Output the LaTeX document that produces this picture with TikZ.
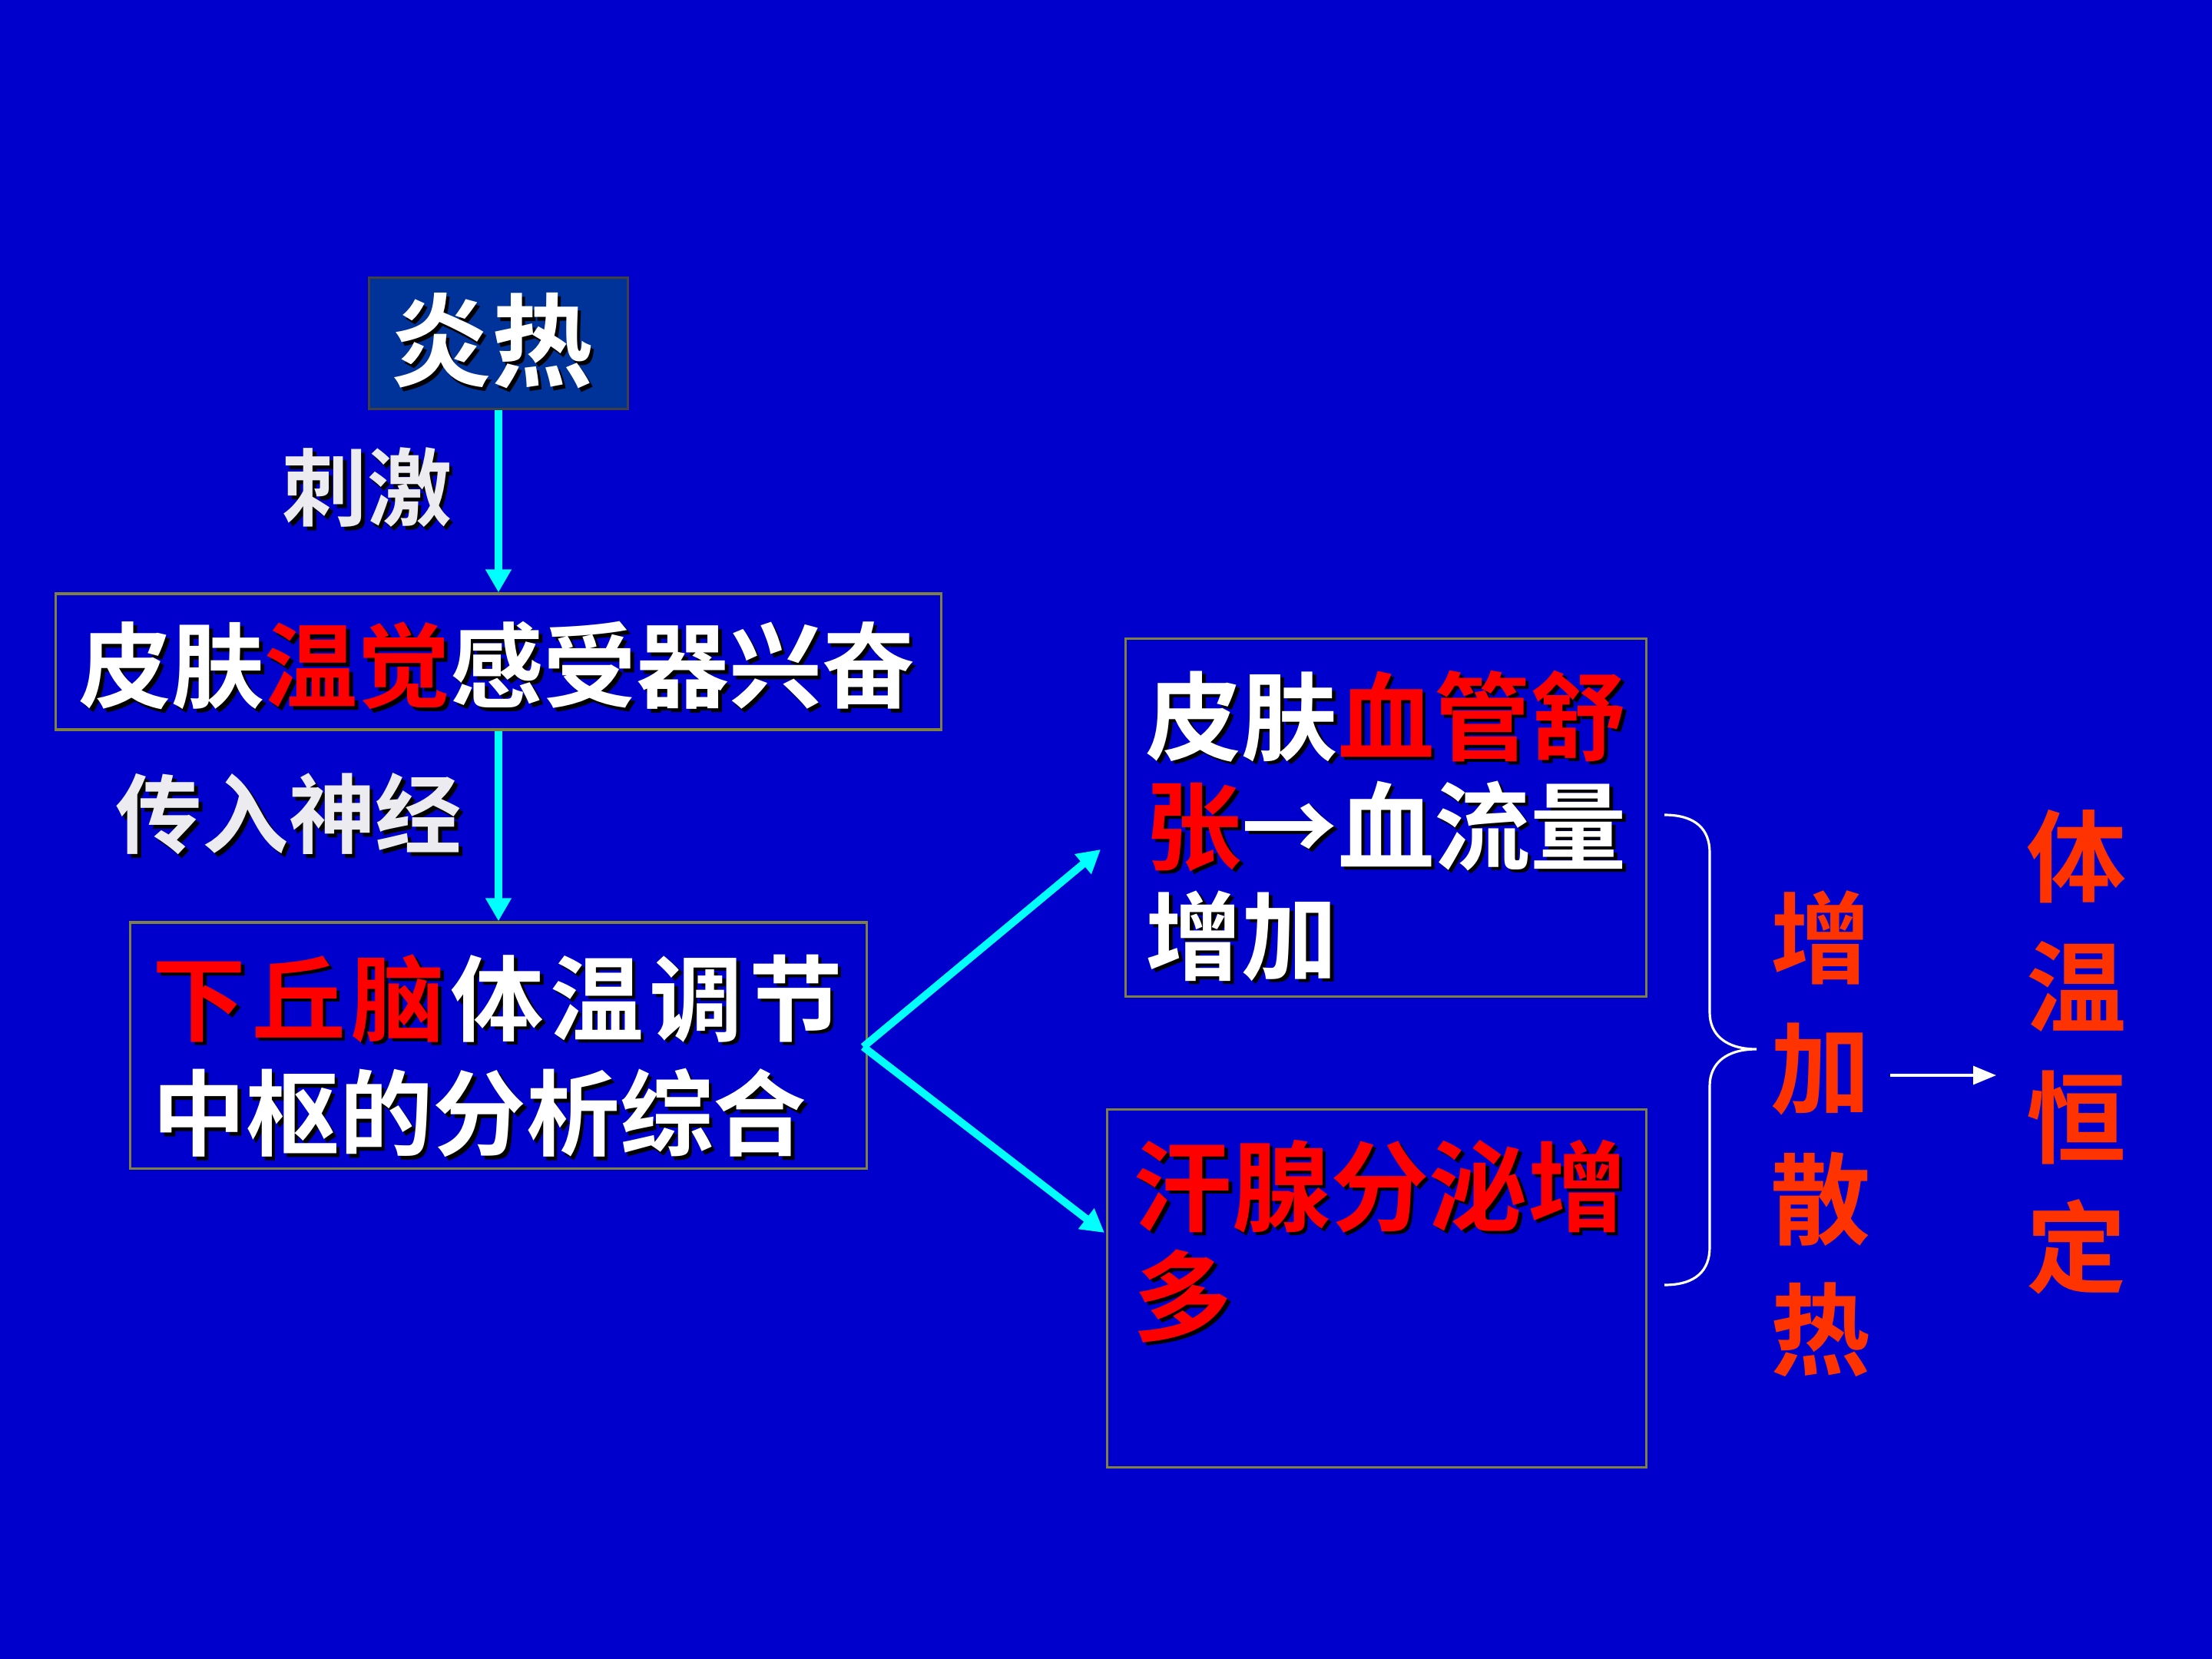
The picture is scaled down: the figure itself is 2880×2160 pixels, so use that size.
\documentclass[tikz,border=0pt]{standalone}
\usepackage{fontspec}
\usetikzlibrary{arrows.meta}
\newfontfamily\cjk{Noto Sans CJK SC}[BoldFont={Noto Sans CJK SC Bold}]
\definecolor{bgc}{RGB}{0,0,204}
\definecolor{boxone}{RGB}{0,51,153}
\definecolor{olivec}{RGB}{128,128,64}
\definecolor{darkc}{RGB}{64,64,64}
\definecolor{txtred}{RGB}{255,0,0}
\definecolor{orred}{RGB}{255,51,0}
\definecolor{lbl}{RGB}{236,236,240}
\definecolor{cyanc}{RGB}{0,255,255}
\newcommand\sh[2]{\leavevmode\rlap{\kern1.3pt\raisebox{-1.3pt}{\color{black}#2}}{\color{#1}#2}}
\newcommand\lsp{\hspace{2.2pt}}
\tikzset{
  frame/.style={draw=olivec, line width=0.9pt, fill=bgc, inner sep=0pt},
  txt/.style={inner sep=0pt, font=\cjk\bfseries},
  cyanarr/.style={draw=cyanc, line width=2.8pt, -{Triangle[length=3mm,width=3.2mm]}},
  whitearr/.style={draw=white, line width=0.9pt, -{Triangle[length=3mm,width=2.4mm]}},
}
\begin{document}
\begin{tikzpicture}[x=0.01cm,y=-0.01cm]
\useasboundingbox (0,0) rectangle (2880,2160);
\fill[bgc] (0,0) rectangle (2880,2160);

% boxes
\node[draw=darkc, line width=0.9pt, fill=boxone, inner sep=0pt,
      minimum width=3.36cm, minimum height=1.71cm] (yr) at (649,447) {};
\node[txt, font=\cjk\bfseries\fontsize{37.5}{44}\selectfont] (yrt) at (640,446) {\sh{white}{炎热}};
\node[frame, minimum width=11.52cm, minimum height=1.77cm] (b2) at (649,861.5) {};
\node[txt, font=\cjk\bfseries\fontsize{34.4}{41}\selectfont] (b2t) at (647,869)
      {\sh{white}{皮肤}\sh{txtred}{温觉}\sh{white}{感受器兴奋}};
\node[frame, minimum width=9.59cm, minimum height=3.2cm] (b3) at (649,1361) {};
\node[frame, minimum width=6.77cm, minimum height=4.65cm] (b4) at (1804.5,1064.5) {};
\node[frame, minimum width=7.01cm, minimum height=4.65cm] (b5) at (1792.5,1677.5) {};

% texts in boxes
\node[txt, anchor=north west, align=left, font=\cjk\bfseries\fontsize{34.6}{42.4}\selectfont] (t3) at (198,1242)
  {\sh{txtred}{下\lsp 丘\lsp 脑}\lsp\sh{white}{体\lsp 温\lsp 调\lsp 节}\\ \sh{white}{中枢的分析综合}};
\node[txt, anchor=north west, align=left, font=\cjk\bfseries\fontsize{35.6}{40.7}\selectfont] (t4) at (1491,872)
  {\sh{white}{皮肤}\sh{txtred}{血管舒}\\ \sh{txtred}{张}\sh{white}{→血流量}\\ \sh{white}{增加}};
\node[txt, anchor=north west, align=left, font=\cjk\bfseries\fontsize{36.5}{40.7}\selectfont] (t5) at (1475,1483)
  {\sh{txtred}{汗腺分泌增}\\ \sh{txtred}{多}};

% labels
\node[txt, font=\cjk\bfseries\fontsize{31.4}{38}\selectfont] (l1) at (478,637) {\sh{lbl}{刺激}};
\node[txt, font=\cjk\bfseries\fontsize{32}{38}\selectfont] (l2) at (376,1062) {\sh{lbl}{传入神经}};

% right texts
\node[txt, align=center, text=orred, font=\cjk\bfseries\fontsize{37}{48.3}\selectfont] (zj) at (2371,1476) {增\\加\\散\\热};
\node[txt, align=center, text=orred, font=\cjk\bfseries\fontsize{37}{48.3}\selectfont] (hd) at (2704,1370) {体\\温\\恒\\定};

% connectors
\draw[cyanarr] (yr.south) -- (b2.north);
\draw[cyanarr] (b2.south) -- (b3.north);
\coordinate (e1) at (1433,1106);
\coordinate (e2) at (1438,1605);
\coordinate (st) at (1124,1363);
\draw[cyanarr] (st) -- (e1);
\draw[cyanarr] (st) -- (e2);
\coordinate (w1) at (2461,1400);
\coordinate (w2) at (2599,1400);
\draw[whitearr] (w1) -- (w2);

% brace
\draw[white, line width=0.9pt] (2167,1061) .. controls (2208,1061) and (2226,1080) .. (2226,1110)
  -- (2226,1318) .. controls (2226,1348) and (2248,1366) .. (2287,1366)
  .. controls (2248,1366) and (2226,1384) .. (2226,1414)
  -- (2226,1624) .. controls (2226,1654) and (2208,1673) .. (2167,1673);
\end{tikzpicture}
\end{document}
